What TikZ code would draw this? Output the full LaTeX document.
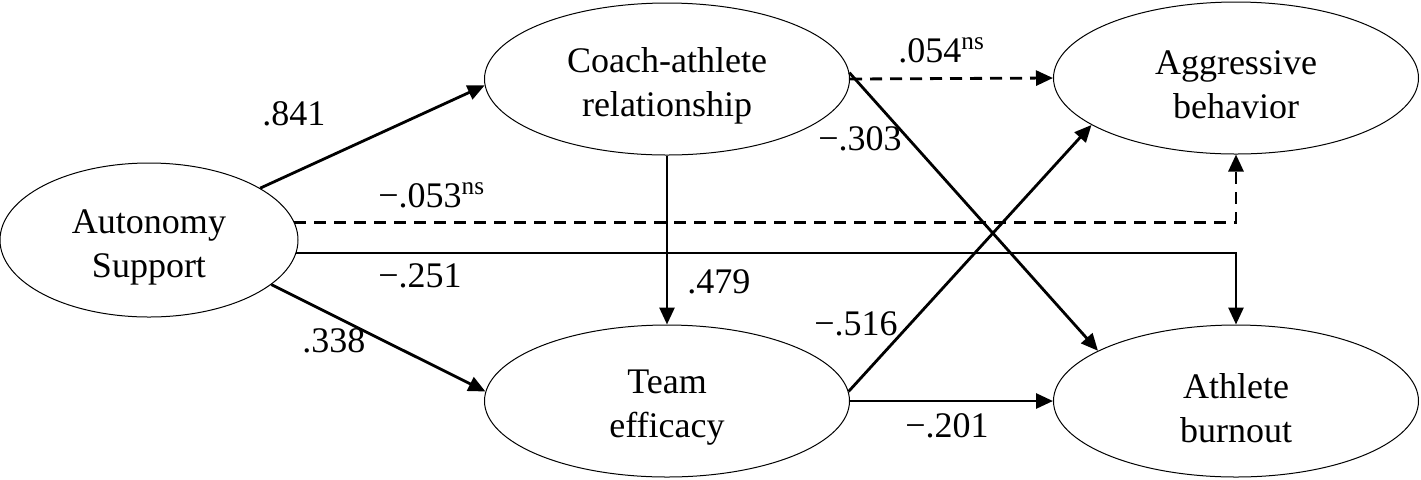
\documentclass[tikz,border=0pt]{standalone}
\usepackage{fontspec}
\setmainfont{Liberation Serif}
\usetikzlibrary{shapes.geometric,arrows.meta}
\begin{document}
\begin{tikzpicture}[x=0.5pt,y=-0.5pt,
  var/.style={ellipse,draw,line width=0.5pt,inner sep=0pt,
    minimum width=182.5pt,minimum height=76pt},
  vtext/.style={inner sep=0pt,align=center,font=\fontsize{18}{22}\selectfont},
  path/.style={line width=1.4pt,-{Triangle[length=8.5pt,width=7.5pt]}},
  nspath/.style={path,dash pattern=on 6pt off 4pt},
  coef/.style={anchor=base west,inner sep=0pt,font=\fontsize{18}{22}\selectfont}]
\useasboundingbox (0,0) rectangle (1421,479);
\node[var,minimum width=149pt,minimum height=77pt] (aut) at (149,240) {};
\node[var] (coach) at (667,79) {};
\node[var] (agg) at (1236,78) {};
\node[var] (team) at (667,401) {};
\node[var] (ath) at (1236,401) {};
\node[vtext] (autt) at ([yshift=-3.5pt]aut.center) {Autonomy\\Support};
\node[vtext] (coacht) at ([yshift=-3.5pt]coach.center) {Coach-athlete\\relationship};
\node[vtext] (aggt) at ([yshift=-3.5pt]agg.center) {Aggressive\\behavior};
\node[vtext] (teamt) at ([yshift=-3.5pt]team.center) {Team\\efficacy};
\node[vtext] (atht) at ([yshift=-3.5pt]ath.center) {Athlete\\burnout};
\draw[path] (aut.25) -- (coach.182);
\draw[path] (aut.-20) -- (team.177);
\draw[nspath] (aut.7.5) -| (agg.south);
\draw[path] (aut.-5) -| (ath.north);
\draw[path] (coach.south) -- (team.north);
\draw[nspath] (coach.east) -- (agg.west);
\draw[path] (coach.2) -- (ath.160.6);
\draw[path] (team.3.4) -- (agg.198);
\draw[path] (team.east) -- (ath.west);
\node[coef] (l1) at (262,125) {.841};
\node[coef] (l2) at (302,352) {.338};
\node[coef] (l3) at (378,207) {−.053\textsuperscript{ns}};
\node[coef] (l4) at (378,287) {−.251};
\node[coef] (l5) at (687,293) {.479};
\node[coef] (l6) at (898,62) {.054\textsuperscript{ns}};
\node[coef] (l7) at (818,150) {−.303};
\node[coef] (l8) at (814,335) {−.516};
\node[coef] (l9) at (905,437) {−.201};
\end{tikzpicture}
\end{document}
